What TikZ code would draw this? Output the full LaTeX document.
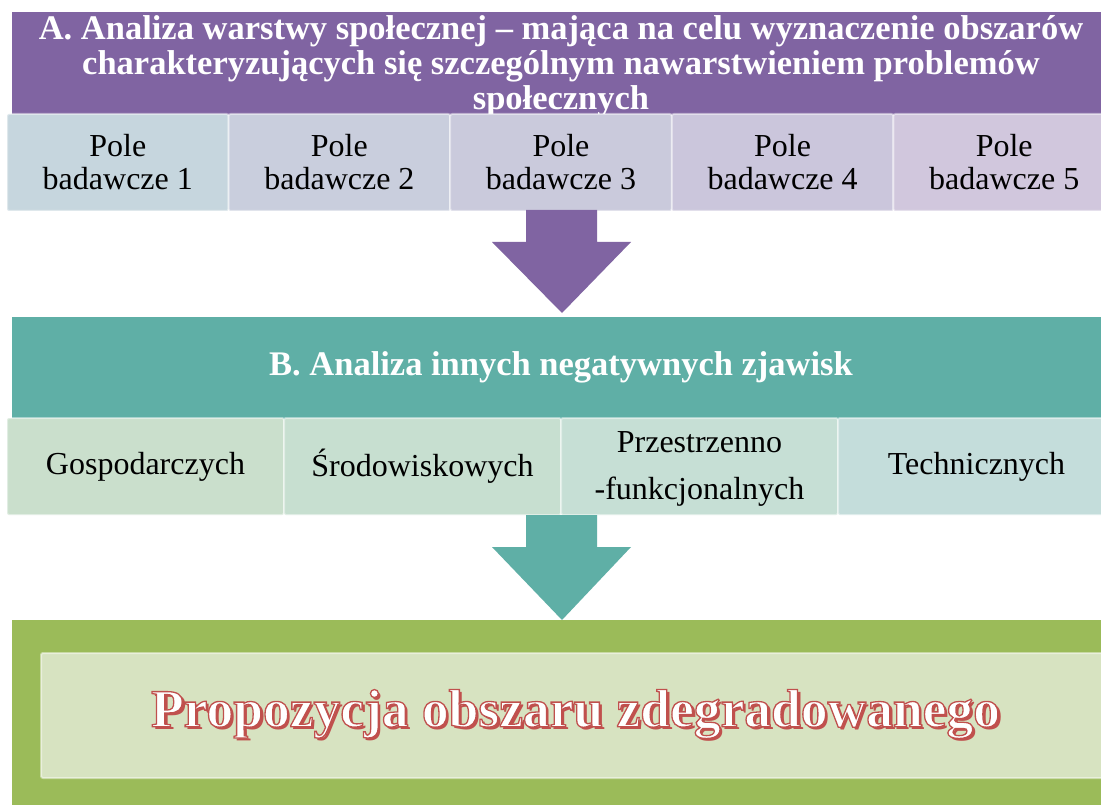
\documentclass[tikz,border=0pt]{standalone}
\usepackage{fontspec}
\setmainfont{Liberation Serif}
\definecolor{purp}{HTML}{8064A2}
\definecolor{tealB}{HTML}{5FAFA6}
\definecolor{grn}{HTML}{9BBB59}
\definecolor{grnin}{HTML}{D7E3C1}
\definecolor{redt}{HTML}{C0504D}
\definecolor{pA}{HTML}{C6D6DE}
\definecolor{pB}{HTML}{C9CEDD}
\definecolor{pC}{HTML}{CACADC}
\definecolor{pD}{HTML}{CBC6DC}
\definecolor{pE}{HTML}{D1C7DD}
\definecolor{bA}{HTML}{CADFCC}
\definecolor{bB}{HTML}{C7DFD0}
\definecolor{bC}{HTML}{C6DFD5}
\definecolor{bD}{HTML}{C4DDDB}
\newcommand{\outlinedtext}[1]{\makebox[0pt][l]{\hspace{3pt}\raisebox{-3pt}{\color{redt}#1}}{\color{white}\special{pdf:code 2 Tr 1.3 w 0.753 0.314 0.302 RG}#1\special{pdf:code 0 Tr 0.4 w}}}
\tikzset{
  hdr/.style={inner sep=0pt, anchor=center, text=white, align=center},
  cell/.style={inner sep=0pt, rounded corners=2pt, draw=white, draw opacity=0.45, line width=2pt, align=center, text=black},
  celltext/.style={font=\fontsize{32}{33}\selectfont}
}
\begin{document}
\begin{tikzpicture}[x=1pt,y=-1pt]
\clip (0,0) rectangle (1101,805);
\useasboundingbox (0,0) rectangle (1101,805);
\fill[white] (0,0) rectangle (1101,805);
% Section A
\fill[purp] (12,12) rectangle (1110,115);
\node[hdr, font=\fontsize{34.5}{35}\selectfont\bfseries] (A) at (561,66)
  {A. Analiza warstwy społecznej – mająca na celu wyznaczenie obszarów\\charakteryzujących się szczególnym nawarstwieniem problemów\\społecznych};
\foreach \i/\c/\n in {0/pA/1,1/pB/2,2/pC/3,3/pD/4,4/pE/5}{
  \node[cell, celltext, fill=\c, minimum width=221.6pt, minimum height=97pt]
    (p\n) at ({117.8+221.6*\i},162.5)
    {Pole\\badawcze \n};
}
% Arrow 1
\fill[purp] (526,210) -- (597,210) -- (597,242) -- (631,242) -- (562,313) -- (492,242) -- (526,242) -- cycle;
% Section B
\fill[tealB] (12,317) rectangle (1110,420);
\node[hdr, font=\fontsize{34.5}{36}\selectfont\bfseries] (B) at (561,367) {B. Analiza innych negatywnych zjawisk};
\node[cell, celltext, fill=bA, minimum width=277pt, minimum height=97pt] (b1) at (145.5,466.5) {Gospodarczych};
\node[cell, celltext, fill=bB, minimum width=277pt, minimum height=97pt] (b2) at (422.5,466.5) {Środowiskowych};
\node[cell, font=\fontsize{32}{47}\selectfont, fill=bC, minimum width=277pt, minimum height=97pt] (b3) at (699.5,466.5) {};
\node[inner sep=0pt, align=center, font=\fontsize{32}{47}\selectfont] (b3t) at (699.5,469) {Przestrzenno\\-funkcjonalnych};
\node[cell, celltext, fill=bD, minimum width=277pt, minimum height=97pt] (b4) at (976.5,466.5) {Technicznych};
% Arrow 2
\fill[tealB] (526,515) -- (597,515) -- (597,547) -- (631,547) -- (562,620) -- (492,547) -- (526,547) -- cycle;
% Section C
\fill[grn] (12,620) rectangle (1110,820);
\node[cell, fill=grnin, minimum width=1069pt, minimum height=125pt] (C) at (575.5,715.5) {};
\node[inner sep=0pt, font=\fontsize{53.5}{60}\selectfont\bfseries] (Ct) at (C.center)
  {\outlinedtext{Propozycja obszaru zdegradowanego}};
\end{tikzpicture}
\end{document}
